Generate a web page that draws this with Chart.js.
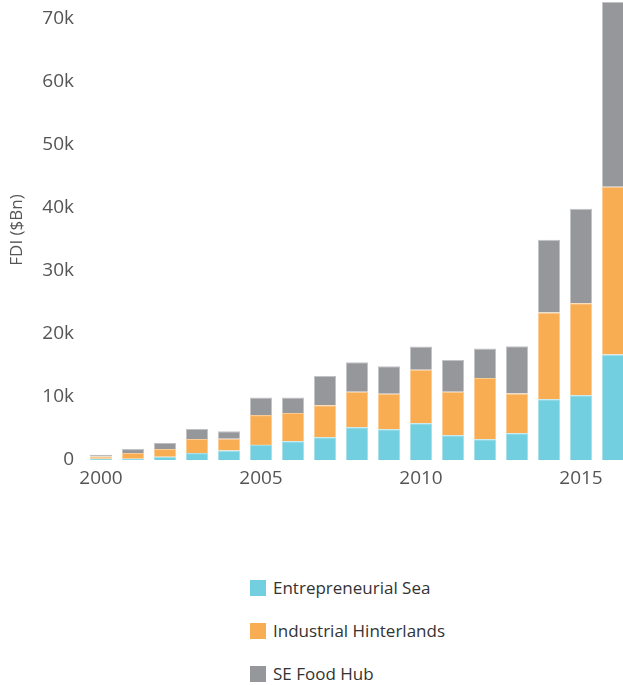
<!DOCTYPE html>
<html>
<head>
<meta charset="utf-8">
<script src="https://cdn.jsdelivr.net/npm/chart.js@4/dist/chart.umd.min.js"></script>
<style>
  html, body { margin: 0; padding: 0; background: #fff; overflow: hidden; }
  body { width: 623px; height: 685px; position: relative; font-family: 'Open Sans', sans-serif; }
  #wrap { position: absolute; left: 0; top: 0; width: 629px; height: 500px; }
  #legend { position: absolute; left: 250px; top: 566px; }
  #legend .item { display: flex; align-items: center; height: 43px; font-size: 17px; color: #333; }
  #legend .box { width: 16px; height: 16px; margin-right: 7px; }
</style>
</head>
<body>
<div id="wrap"><canvas id="chart"></canvas></div>
<div id="legend"></div>
<script>
// FDI by region, $Bn
const years = ['2000', '2001', '2002', '2003', '2004', '2005', '2006', '2007', '2008',
  '2009', '2010', '2011', '2012', '2013', '2014', '2015', '2016'];
const entrepreneurialSea = [200, 200, 530, 1100, 1500, 2400, 2980, 3620, 5210,
  4890, 5850, 3940, 3300, 4260, 9630, 10270, 16750];
const industrialHinterlands = [370, 900, 1220, 2230, 1860, 4730, 4470, 5050, 5640,
  5640, 8460, 6910, 9730, 6280, 13780, 14620, 26600];
const seFoodHub = [280, 640, 960, 1600, 1220, 2770, 2450, 4680, 4680,
  4360, 3720, 5000, 4680, 7500, 11550, 15000, 29350];
const labeledYears = ['2000', '2005', '2010', '2015'];
const yTickValues = [0, 10000, 20000, 30000, 40000, 50000, 60000, 70000];

const tickFont = { family: "'Open Sans', sans-serif", size: 19 };

// builds the stacked legend below the chart
const htmlLegend = {
  id: 'htmlLegend',
  afterUpdate(chart) {
    const box = document.getElementById('legend');
    box.innerHTML = '';
    chart.data.datasets.forEach(ds => {
      const item = document.createElement('div');
      item.className = 'item';
      const swatch = document.createElement('span');
      swatch.className = 'box';
      swatch.style.background = ds.backgroundColor;
      const text = document.createElement('span');
      text.textContent = ds.label;
      item.appendChild(swatch);
      item.appendChild(text);
      box.appendChild(item);
    });
  }
};

new Chart(document.getElementById('chart'), {
  type: 'bar',
  data: {
    labels: years,
    datasets: [
      { label: 'Entrepreneurial Sea', data: entrepreneurialSea, backgroundColor: '#72cfe0', borderColor: '#a6e0eb' },
      { label: 'Industrial Hinterlands', data: industrialHinterlands, backgroundColor: '#f8ad52', borderColor: '#fbcb92' },
      { label: 'SE Food Hub', data: seFoodHub, backgroundColor: '#96979b', borderColor: '#c2c3c6' }
    ]
  },
  options: {
    responsive: true,
    maintainAspectRatio: false,
    animation: false,
    layout: { padding: 0 },
    datasets: {
      bar: {
        categoryPercentage: 1,
        barPercentage: 0.69,
        borderWidth: { top: 1, left: 1, right: 1, bottom: 0 },
        borderSkipped: false
      }
    },
    plugins: {
      legend: { display: false },
      tooltip: { enabled: false }
    },
    scales: {
      x: {
        stacked: true,
        grid: { display: false, drawTicks: false },
        border: { display: false },
        ticks: {
          autoSkip: false,
          maxRotation: 0,
          padding: 7,
          color: '#555',
          font: tickFont,
          callback(value) {
            const y = this.getLabelForValue(value);
            return labeledYears.includes(y) ? y : '';
          }
        },
        afterFit(scale) {
          scale.height = 40;
          scale.paddingLeft = 0;
          scale.paddingRight = 0;
        }
      },
      y: {
        stacked: true,
        min: 0,
        max: 73000,
        grid: { display: false, drawTicks: false },
        border: { display: false },
        title: {
          display: true,
          text: 'FDI ($Bn)',
          color: '#555',
          font: { family: "'Open Sans', sans-serif", size: 17 },
          padding: { top: 7, bottom: 0 }
        },
        ticks: {
          padding: 11,
          color: '#555',
          font: tickFont,
          callback: v => v === 0 ? '0' : (v / 1000) + 'k'
        },
        afterBuildTicks(scale) {
          scale.ticks = yTickValues.map(v => ({ value: v }));
        },
        afterFit(scale) {
          scale.width = 85;
          scale.paddingTop = 0;
          scale.paddingBottom = 0;
        }
      }
    }
  },
  plugins: [htmlLegend]
});
</script>
</body>
</html>
